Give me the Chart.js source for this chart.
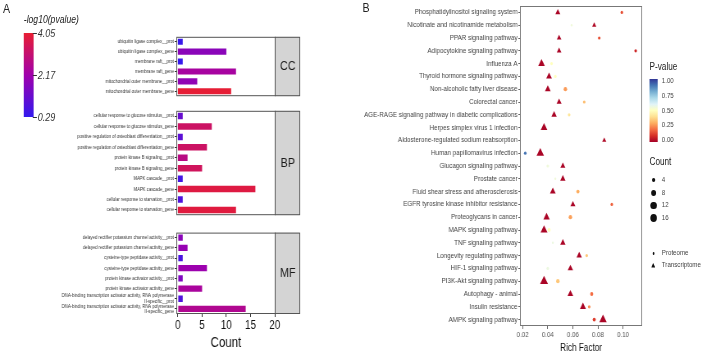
<!DOCTYPE html>
<html>
<head>
<meta charset="utf-8">
<script src="https://cdn.jsdelivr.net/npm/chart.js@4.4.1/dist/chart.umd.min.js"></script>
<style>
body { margin: 0; width: 702px; height: 357px; background: #fff; position: relative; overflow: hidden;
       font-family: 'Liberation Sans', Arial, sans-serif; color: #222; }
/* the figure is laid out 856px wide and squeezed to 702px, like the original narrow figure */
#page { position: absolute; left: 0; top: 0; width: 856px; height: 357px; transform: scaleX(0.8201); transform-origin: 0 0; }
canvas { position: absolute; }
.t { position: absolute; white-space: nowrap; line-height: 1; }
.mk { position: absolute; background: #111; }
</style>
</head>
<body>
<div id="page">
<div class="t" style="left:3.7px;top:2px;font-size:13px;">A</div>
<div class="t" style="left:442px;top:1px;font-size:13px;">B</div>

<div class="t" style="left:29px;top:14px;font-size:10.5px;font-style:italic;">-log10(pvalue)</div>
<div id="barA" style="position:absolute;left:29px;top:33px;width:12px;height:84px;"></div>
<div id="ticksA"></div>

<div class="t" style="left:792px;top:62px;font-size:10px;">P-value</div>
<div id="barB" style="position:absolute;left:792px;top:79px;width:10px;height:63px;"></div>
<div id="ticksB"></div>
<div class="t" style="left:792px;top:157px;font-size:10px;">Count</div>
<div id="sizeB"></div>
<div id="shapeB"></div>

<canvas id="ccChart" width="368" height="67" style="left:0;top:33px;"></canvas>
<canvas id="bpChart" width="368" height="112" style="left:0;top:107px;"></canvas>
<canvas id="mfChart" width="368" height="131" style="left:0;top:226px;"></canvas>
<canvas id="dotChart" width="454" height="357" style="left:402px;top:0;"></canvas>
</div>

<script>
// ---- panel A: GO terms ----
const ccTerms = ['ubiquitin ligase complex__prot', 'ubiquitin ligase complex_gene', 'membrane raft__prot',
    'membrane raft_gene', 'mitochondrial outer membrane__prot', 'mitochondrial outer membrane_gene'];
const ccCount = [1, 10, 1, 12, 4, 11];
const ccLogP = [0.4, 1.8, 0.35, 2.35, 1.9, 4.0];

const bpTerms = ['cellular response to glucose stimulus__prot', 'cellular response to glucose stimulus_gene',
    'positive regulation of osteoblast differentiation__prot', 'positive regulation of osteoblast differentiation_gene',
    'protein kinase B signaling__prot', 'protein kinase B signaling_gene', 'MAPK cascade__prot', 'MAPK cascade_gene',
    'cellular response to starvation__prot', 'cellular response to starvation_gene'];
const bpCount = [1, 7, 1, 6, 2, 5, 1, 16, 1, 12];
const bpLogP = [1.2, 3.3, 1.0, 3.3, 2.8, 3.4, 0.6, 3.8, 0.8, 3.85];

const mfTerms = ['delayed rectifier potassium channel activity__prot', 'delayed rectifier potassium channel activity_gene',
    'cysteine-type peptidase activity__prot', 'cysteine-type peptidase activity_gene',
    'protein kinase activator activity__prot', 'protein kinase activator activity_gene',
    ['DNA-binding transcription activator activity, RNA polymerase', 'II-specific__prot'],
    ['DNA-binding transcription activator activity, RNA polymerase', 'II-specific_gene']];
const mfCount = [1, 2, 1, 6, 1, 5, 1, 14];
const mfLogP = [1.8, 2.0, 0.7, 2.1, 1.6, 2.4, 0.8, 2.6];

const countTicks = [0, 5, 10, 15, 20];
const logPLegend = [4.05, 2.17, 0.29];

// ---- panel B: KEGG pathways ----
const pathways = ['Phosphatidylinositol signaling system', 'Nicotinate and nicotinamide metabolism',
    'PPAR signaling pathway', 'Adipocytokine signaling pathway', 'Influenza A', 'Thyroid hormone signaling pathway',
    'Non-alcoholic fatty liver disease', 'Colorectal cancer', 'AGE-RAGE signaling pathway in diabetic complications',
    'Herpes simplex virus 1 infection', 'Aldosterone-regulated sodium reabsorption', 'Human papillomavirus infection',
    'Glucagon signaling pathway', 'Prostate cancer', 'Fluid shear stress and atherosclerosis',
    'EGFR tyrosine kinase inhibitor resistance', 'Proteoglycans in cancer', 'MAPK signaling pathway',
    'TNF signaling pathway', 'Longevity regulating pathway', 'HIF-1 signaling pathway', 'PI3K-Akt signaling pathway',
    'Autophagy - animal', 'Insulin resistance', 'AMPK signaling pathway'];
const transRich = [0.048, 0.077, 0.049, 0.049, 0.035, 0.041, 0.040, 0.049, 0.045, 0.037, 0.085, 0.034, 0.052,
    0.052, 0.044, 0.060, 0.039, 0.037, 0.052, 0.065, 0.058, 0.037, 0.058, 0.068, 0.084];
const transCount = [6, 4, 5, 5, 11, 8, 8, 6, 7, 11, 4, 14, 6, 7, 8, 6, 10, 12, 7, 7, 7, 16, 8, 9, 14];
const transP = [0.01, 0.02, 0.01, 0.01, 0.01, 0.01, 0.01, 0.01, 0.01, 0.01, 0.02, 0.01, 0.01,
    0.01, 0.01, 0.01, 0.01, 0.01, 0.01, 0.01, 0.01, 0.01, 0.01, 0.01, 0.01];
const protRich = [0.099, 0.059, 0.081, 0.110, 0.043, 0.046, 0.054, 0.069, 0.057, null, null, 0.022, 0.040,
    0.046, 0.064, 0.091, 0.058, 0.041, 0.044, 0.071, 0.040, 0.048, 0.075, 0.073, 0.077];
const protCount = [2, 1, 2, 2, 2, 2, 4, 2, 2, null, null, 2, 2, 1, 3, 2, 4, 3, 1, 2, 2, 4, 3, 2, 3];
const protP = [0.15, 0.55, 0.15, 0.08, 0.5, 0.5, 0.27, 0.33, 0.42, null, null, 0.9, 0.55, 0.55, 0.3, 0.18,
    0.28, 0.5, 0.56, 0.35, 0.56, 0.35, 0.2, 0.25, 0.12];

const richTicks = [0.02, 0.04, 0.06, 0.08, 0.10];
const pLegend = [1.00, 0.75, 0.50, 0.25, 0.00];
const countLegend = [4, 8, 12, 16];

const FONT = "'Liberation Sans', Arial, sans-serif";

function mix(a, b, t) {
    return a.map((v, i) => Math.round(v + (b[i] - v) * t));
}
function ramp(stops, t) {
    t = Math.max(0, Math.min(1, t));
    const n = stops.length - 1;
    const k = Math.min(n - 1, Math.floor(t * n));
    const c = mix(stops[k], stops[k + 1], t * n - k);
    return 'rgb(' + c.join(',') + ')';
}

const blueRed = [[50, 25, 238], [160, 0, 172], [232, 30, 50]];
function fillA(v) { return ramp(blueRed, (v - 0.29) / (4.05 - 0.29)); }

const rdylbu = [[165, 0, 38], [215, 48, 39], [244, 109, 67], [253, 174, 97], [254, 224, 144], [255, 255, 191],
    [224, 243, 248], [171, 217, 233], [116, 173, 209], [69, 117, 180], [49, 54, 149]];
function fillB(p) { return ramp(rdylbu, p); }

function dotR(c) { return 0.98 * Math.sqrt(c) + 0.2; }

// facet box + grey strip
const facetStrip = {
    id: 'facetStrip',
    afterDraw(chart, args, opts) {
        const { left, right, top, bottom } = chart.chartArea;
        const ctx = chart.ctx;
        ctx.save();
        ctx.fillStyle = '#d4d4d4';
        ctx.fillRect(right, top, 30, bottom - top);
        ctx.strokeStyle = '#555';
        ctx.lineWidth = 1;
        ctx.strokeRect(left - 0.5, top + 0.5, right - left + 1, bottom - top - 1);
        ctx.strokeRect(right + 0.5, top + 0.5, 30, bottom - top - 1);
        ctx.fillStyle = '#1a1a1a';
        ctx.font = '13px ' + FONT;
        ctx.textAlign = 'center';
        ctx.textBaseline = 'middle';
        ctx.fillText(opts.name, right + 16, (top + bottom) / 2);
        ctx.restore();
    }
};

function goChart(id, terms, counts, logp, name, showX) {
    const xScale = {
        min: -0.15, max: 20,
        display: showX,
        afterBuildTicks: s => { s.ticks = countTicks.map(v => ({ value: v })); },
        grid: { drawOnChartArea: false, tickLength: 3, color: '#333' },
        border: { display: false },
        ticks: { color: '#111', font: { family: FONT, size: 12 }, padding: 1, maxRotation: 0 },
        title: { display: true, text: 'Count', color: '#111', font: { family: FONT, size: 14 },
                 padding: { top: 0, bottom: 5 } }
    };
    if (showX) xScale.afterFit = s => { s.height = 43; };

    new Chart(document.getElementById(id), {
        type: 'bar',
        data: {
            labels: terms,
            datasets: [{
                data: counts,
                backgroundColor: logp.map(fillA),
                borderWidth: 0,
                categoryPercentage: 1,
                barPercentage: 0.62
            }]
        },
        options: {
            indexAxis: 'y',
            responsive: false,
            animation: false,
            layout: { padding: { left: 0, right: 33, top: 1, bottom: showX ? 0 : 2 } },
            plugins: { legend: { display: false }, tooltip: { enabled: false }, facetStrip: { name: name } },
            scales: {
                x: xScale,
                y: {
                    afterFit: s => { s.width = 216; },
                    grid: { drawOnChartArea: false, offset: false, tickLength: 3, color: '#333' },
                    border: { display: false },
                    ticks: { color: '#333', font: { family: FONT, size: 5.1, lineHeight: 1.1 }, padding: 1, autoSkip: false }
                }
            }
        },
        plugins: [facetStrip]
    });
}

goChart('ccChart', ccTerms, ccCount, ccLogP, 'CC', false);
goChart('bpChart', bpTerms, bpCount, bpLogP, 'BP', false);
goChart('mfChart', mfTerms, mfCount, mfLogP, 'MF', true);

// panel B dot plot
const panelBox = {
    id: 'panelBox',
    afterDraw(chart) {
        const { left, right, top, bottom } = chart.chartArea;
        const ctx = chart.ctx;
        ctx.save();
        ctx.strokeStyle = '#777';
        ctx.lineWidth = 1;
        ctx.strokeRect(left + 0.5, top + 0.5, right - left - 1, bottom - top - 1);
        ctx.restore();
    }
};

const protData = [];
const protIdx = [];
pathways.forEach((p, i) => {
    if (protRich[i] !== null) { protData.push({ x: protRich[i], y: p }); protIdx.push(i); }
});

new Chart(document.getElementById('dotChart'), {
    type: 'scatter',
    data: {
        datasets: [
            {
                label: 'Transcriptome',
                data: pathways.map((p, i) => ({ x: transRich[i], y: p })),
                pointStyle: 'triangle',
                pointRadius: ctx => 1.35 * dotR(transCount[ctx.dataIndex]),
                backgroundColor: ctx => fillB(transP[ctx.dataIndex]),
                borderWidth: 0
            },
            {
                label: 'Proteome',
                data: protData,
                pointStyle: 'circle',
                pointRadius: ctx => dotR(protCount[protIdx[ctx.dataIndex]]),
                backgroundColor: ctx => fillB(protP[protIdx[ctx.dataIndex]]),
                borderWidth: 0
            }
        ]
    },
    options: {
        responsive: false,
        animation: false,
        layout: { padding: { left: 0, right: 73, top: 6, bottom: 0 } },
        plugins: { legend: { display: false }, tooltip: { enabled: false } },
        scales: {
            x: {
                type: 'linear', min: 0.0178, max: 0.1152,
                afterBuildTicks: s => { s.ticks = richTicks.map(v => ({ value: v })); },
                afterFit: s => { s.height = 31; },
                grid: { drawOnChartArea: false, tickLength: 3, color: '#666' },
                border: { display: false },
                ticks: { callback: v => v.toFixed(2), color: '#555', font: { family: FONT, size: 7.5 }, padding: 1, maxRotation: 0 },
                title: { display: true, text: 'Rich Factor', color: '#111', font: { family: FONT, size: 10 },
                         padding: { top: 0, bottom: 3 } }
            },
            y: {
                type: 'category', labels: pathways, offset: true,
                afterFit: s => { s.width = 232; },
                grid: { drawOnChartArea: false, tickLength: 2, color: '#666' },
                border: { display: false },
                ticks: { color: '#444', font: { family: FONT, size: 7.6 }, padding: 1, autoSkip: false }
            }
        }
    },
    plugins: [panelBox]
});

// ---- legends (HTML text) ----
function addText(parent, x, y, txt, size, extra) {
    const d = document.createElement('div');
    d.className = 't';
    d.style.left = x + 'px';
    d.style.top = y + 'px';
    d.style.fontSize = size + 'px';
    if (extra) d.style.cssText += extra;
    d.textContent = txt;
    parent.appendChild(d);
}

// A colour bar
document.getElementById('barA').style.background =
    'linear-gradient(to top,' + blueRed.map(c => 'rgb(' + c.join(',') + ')').join(',') + ')';
const ticksA = document.getElementById('ticksA');
logPLegend.forEach(v => {
    const y = 33 + (4.05 - v) / (4.05 - 0.29) * 84;
    const m = document.createElement('div');
    m.className = 'mk';
    m.style.cssText += 'left:40px;top:' + (y - 0.5) + 'px;width:5px;height:1px;background:#333;';
    ticksA.appendChild(m);
    addText(ticksA, 46, y - 5, v.toFixed(2), 11, 'font-style:italic;color:#333;');
});

// B colour bar
document.getElementById('barB').style.background =
    'linear-gradient(to top,' + rdylbu.map(c => 'rgb(' + c.join(',') + ')').join(',') + ')';
const ticksB = document.getElementById('ticksB');
pLegend.forEach(v => {
    const y = 81 + (1 - v) * 59;
    addText(ticksB, 807, y - 4, v.toFixed(2), 7.5, 'color:#444;');
});

// B size legend
const sizeB = document.getElementById('sizeB');
countLegend.forEach((c, i) => {
    const y = 180 + i * 12.7;
    const r = dotR(c);
    const m = document.createElement('div');
    m.className = 'mk';
    m.style.cssText += 'left:' + (797 - r) + 'px;top:' + (y - r) + 'px;width:' + 2 * r + 'px;height:' + 2 * r + 'px;border-radius:50%;';
    sizeB.appendChild(m);
    addText(sizeB, 807, y - 4, String(c), 7.5, 'color:#444;');
});

// B shape legend
const shapeB = document.getElementById('shapeB');
const dot = document.createElement('div');
dot.className = 'mk';
dot.style.cssText += 'left:795.5px;top:252px;width:2.5px;height:2.5px;border-radius:50%;';
shapeB.appendChild(dot);
const tri = document.createElement('div');
tri.className = 'mk';
tri.style.cssText += 'left:794px;top:263px;width:5px;height:4.5px;clip-path:polygon(50% 0,100% 100%,0 100%);';
shapeB.appendChild(tri);
addText(shapeB, 807, 249, 'Proteome', 7.5, 'color:#444;');
addText(shapeB, 807, 261, 'Transcriptome', 7.5, 'color:#444;');
</script>
</body>
</html>
